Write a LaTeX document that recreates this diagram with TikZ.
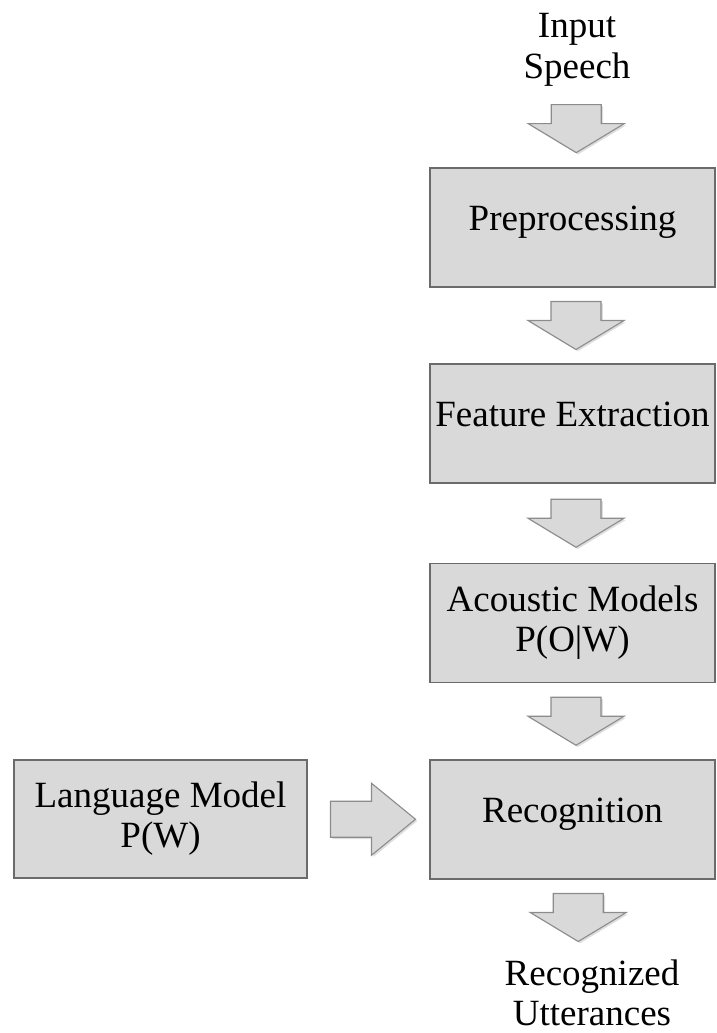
\documentclass[tikz,border=0pt]{standalone}
\usepackage{fontspec}
\setmainfont{Liberation Serif}
\usetikzlibrary{calc}

\definecolor{boxfill}{HTML}{D9D9D9}
\definecolor{boxline}{HTML}{6B6B6B}
\definecolor{arrowline}{HTML}{8C8C8C}

\tikzset{
  txt/.style={font=\fontsize{37}{40}\selectfont, align=center, inner sep=0pt},
  stage/.style={txt, draw=boxline, line width=1.6pt, fill=boxfill,
    minimum width=285pt, minimum height=119pt},
  oneline/.style={text height=0.66em, text depth=0pt},
  blockarrow/.style={draw=arrowline, line width=1.1pt, fill=boxfill, line join=miter,
    preaction={fill=black, opacity=0.13, transform canvas={shift={(1.8pt,-1.8pt)}}}},
  pics/downarrow/.style={code={
    \draw[blockarrow] (-25,-24) -- (25,-24) -- (25,-5) -- (48,-5) -- (0,24)
      -- (-48,-5) -- (-25,-5) -- cycle;
  }},
  pics/rightarrow/.style={code={
    \draw[blockarrow] (-42,-18) -- (-1,-18) -- (-1,-36) -- (43,0) -- (-1,36)
      -- (-1,18) -- (-42,18) -- cycle;
  }},
}

\begin{document}
\begin{tikzpicture}[x=1pt, y=-1pt]
  \useasboundingbox (0,0) rectangle (717,1033);

  % input and output labels (base = baseline of the last line)
  \node[txt, anchor=base] (in) at (577,78) {Input\\Speech};

  % processing chain
  \node[stage, oneline] (pre)  at (572.5,227.5) {Preprocessing};
  \node[stage, oneline] (feat) at (572.5,423.5) {Feature Extraction};
  \node[stage]          (ac)   at (572.5,623)   {Acoustic Models\\P(O|W)};
  \node[stage, oneline] (rec)  at (572.5,819.5) {Recognition};
  \node[stage, minimum width=293pt, minimum height=118pt] (lm) at (160.5,819) {Language Model\\P(W)};

  \node[txt, anchor=base] (out) at (592,1025) {Recognized\\Utterances};

  % block arrows between the stages
  \coordinate (m1) at ($(in.south)!0.5!(pre.north)+(1.5,2)$);
  \coordinate (m2) at ($(pre.south)!0.5!(feat.north)+(3.5,0)$);
  \coordinate (m3) at ($(feat.south)!0.5!(ac.north)+(3.5,0)$);
  \coordinate (m4) at ($(ac.south)!0.5!(rec.north)+(3.5,0)$);
  \coordinate (m5) at ($(rec.south)!0.5!(out.north)+(-4,-2)$);
  \coordinate (mlm) at ($(lm.east)!0.5!(rec.west)+(4,0)$);

  \foreach \m in {m1,m2,m3,m4,m5} \pic at (\m) {downarrow};
  \pic at (mlm) {rightarrow};
\end{tikzpicture}
\end{document}
